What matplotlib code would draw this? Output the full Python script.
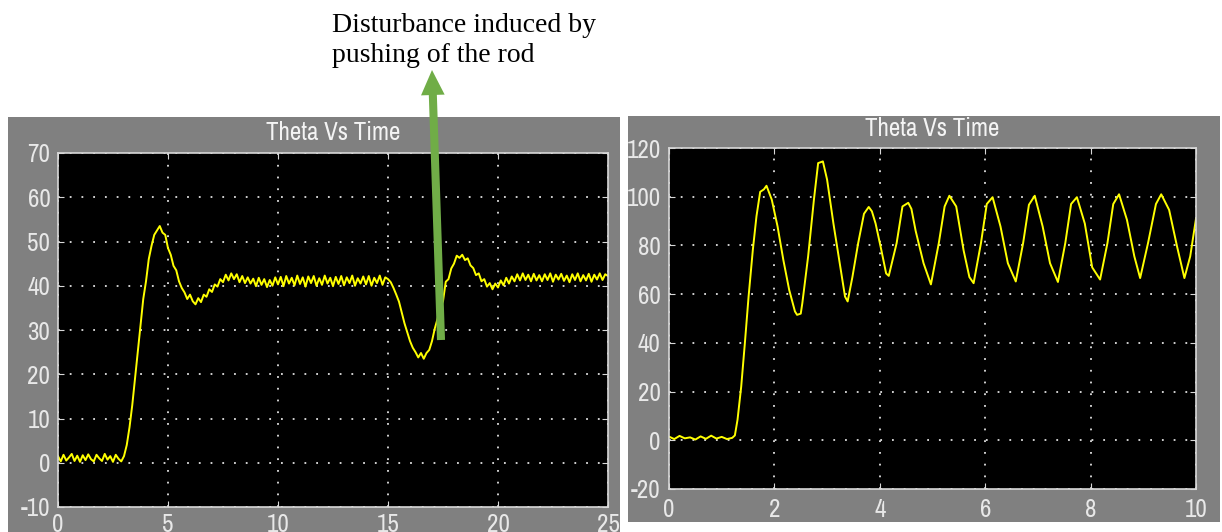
import matplotlib
matplotlib.use("Agg")
import matplotlib.pyplot as plt
from matplotlib import font_manager
from matplotlib.patches import Rectangle, FancyArrowPatch, ArrowStyle

plt.rcParams["axes.unicode_minus"] = False

# left scope: disturbance test, sampled every 0.125 s
t_left_step = 0.125
theta_left = [
    1.5, 0.3, 1.8, 0.5, 1.2, 2.0, 0.4, 1.6,
    0.2, 1.7, 0.6, 1.9, 0.8, 0.3, 1.8, 1.0,
    0.4, 2.0, 0.7, 1.5, 0.2, 1.8, 0.9, 0.3,
    1.5, 4.0, 8.0, 13.0, 19.0, 25.0, 31.0, 37.0,
    41.0, 46.0, 49.0, 51.5, 52.5, 53.5, 52.0, 51.5,
    48.5, 47.0, 44.5, 43.5, 41.0, 39.5, 38.5, 37.0,
    38.0, 36.5, 35.8, 37.2, 36.3, 38.0, 37.5, 39.2,
    38.6, 40.3, 39.8, 41.5, 40.8, 42.5, 41.2, 42.8,
    41.5, 42.6, 40.8, 42.2, 40.6, 41.9, 40.5, 41.6,
    39.9, 41.8, 40.2, 41.5, 39.7, 41.3, 40.0, 41.9,
    40.3, 42.0, 39.9, 42.2, 40.5, 41.8, 40.1, 42.3,
    40.4, 41.9, 39.8, 42.1, 40.6, 42.2, 40.0, 41.7,
    40.2, 42.3, 40.5, 41.8, 39.9, 42.0, 40.4, 42.2,
    40.1, 41.9, 40.6, 42.3, 40.0, 41.7, 40.5, 42.1,
    40.3, 42.2, 40.0, 41.8, 40.6, 42.3, 40.2, 41.9,
    41.5, 40.8, 39.5, 38.0, 36.4, 34.0, 31.5, 29.5,
    27.5, 26.0, 25.0, 23.8, 24.8, 23.5, 24.8, 25.5,
    27.5, 30.3, 32.5, 34.9, 36.5, 40.9, 41.5, 43.9,
    45.0, 46.8, 46.3, 47.0, 45.8, 46.2, 44.6, 44.0,
    42.4, 42.8, 41.0, 41.5, 39.8, 40.6, 39.2, 40.5,
    39.6, 41.2, 40.1, 41.8, 40.5, 42.1, 41.0, 42.6,
    41.2, 42.8, 41.3, 42.5, 41.0, 42.7, 41.2, 42.4,
    41.0, 42.6, 41.3, 42.8, 40.9, 42.5, 41.4, 42.7,
    41.1, 42.3, 40.8, 42.6, 41.3, 42.8, 41.0, 42.4,
    41.2, 42.7, 40.9, 42.5, 41.4, 42.8, 41.3, 42.6,
    42.2,
]
t_left = [i * t_left_step for i in range(len(theta_left))]

# right scope: sustained oscillation
t_right = [
    0.0, 0.1, 0.2, 0.3, 0.4, 0.5, 0.6, 0.7, 0.8, 0.9, 1.0, 1.1, 1.2, 1.25,
    1.3, 1.37, 1.44, 1.51, 1.59, 1.66, 1.73, 1.8, 1.85, 1.95, 2.06, 2.17,
    2.28, 2.39, 2.43, 2.5, 2.53, 2.64, 2.75, 2.83, 2.92, 3.0, 3.12, 3.23,
    3.34, 3.39, 3.48, 3.59, 3.70, 3.79, 3.85, 3.92, 4.03, 4.12, 4.17, 4.32,
    4.43, 4.54, 4.6, 4.68, 4.83, 4.97, 5.12, 5.23, 5.32, 5.45, 5.59, 5.70,
    5.78, 5.92, 6.03, 6.14, 6.29, 6.43, 6.58, 6.72, 6.83, 6.94, 7.09, 7.23,
    7.38, 7.52, 7.63, 7.74, 7.89, 8.03, 8.18, 8.32, 8.43, 8.54, 8.69, 8.83,
    8.94, 9.09, 9.24, 9.34, 9.49, 9.64, 9.78, 9.89, 10.0,
]
theta_right = [
    1.5, 0.5, 1.8, 0.8, 1.2, 0.3, 1.6, 0.6, 1.9, 0.7, 1.4, 0.5, 1.0, 2.0,
    8.4, 22, 40, 59, 78, 92, 102, 103, 104.5, 98.8, 87.8, 74,
    61.8, 52.9, 51.5, 52, 56.3, 75.5, 98.8, 113.8, 114.5, 107, 89, 74,
    59, 57, 67, 81, 93, 95.8, 94, 89, 78, 68.5, 67.5, 81,
    96, 97.5, 95, 86, 72.7, 64, 81, 96, 100.4, 96, 78, 67,
    64.5, 81, 97, 99.8, 87.8, 72.7, 65.2, 81, 96.7, 100.4, 87.8, 72.7,
    65, 81, 97, 99.8, 89, 71, 66, 81, 97, 101, 90.5, 75.5,
    66.6, 81, 97, 101, 94.6, 79.6, 66.6, 75.5, 91,
]

left_xticks = [0, 5, 10, 15, 20, 25]
left_yticks = [-10, 0, 10, 20, 30, 40, 50, 60, 70]
right_xticks = [0, 2, 4, 6, 8, 10]
right_yticks = [-20, 0, 20, 40, 60, 80, 100, 120]
title = "Theta Vs Time"
note = "Disturbance induced by\npushing of the rod"

# the scope font is a narrow sans; use a condensed face if one is installed
scope_font, scope_stretch, scope_size = "Liberation Sans", "normal", 16
for f in font_manager.fontManager.ttflist:
    if "Narrow" in f.name or "Condensed" in f.name:
        scope_font, scope_stretch, scope_size = f.name, "normal", 18
        break
    if str(f.stretch) in ("condensed", "semi-condensed", "500", "600"):
        if f.name in ("DejaVu Sans", "Roboto", "Open Sans", "Noto Sans", "Liberation Sans"):
            scope_font, scope_stretch, scope_size = f.name, "condensed", 18

W, H = 1222, 532
fig = plt.figure(figsize=(W / 100, H / 100), dpi=100)
fig.patch.set_facecolor("white")


def px_box(x0, y0, x1, y1):
    # pixel box (top-left origin) -> figure fraction [left, bottom, width, height]
    return [x0 / W, 1 - y1 / H, (x1 - x0) / W, (y1 - y0) / H]


def scope(panel, box, t, y, xlim, ylim, xticks, yticks, xpad, ypad, title_y):
    l, b, w, h = px_box(*panel)
    fig.patches.append(Rectangle((l, b), w, h, transform=fig.transFigure,
                                 facecolor="#808080", edgecolor="none", zorder=-5))
    ax = fig.add_axes(px_box(*box))
    ax.set_facecolor("black")
    ax.plot(t, y, color="#ffff00", lw=1.4)
    ax.set_xlim(*xlim)
    ax.set_ylim(*ylim)
    ax.set_xticks(xticks)
    ax.set_yticks(yticks)
    ax.grid(True, color="#e0e0e0", linestyle=(0, (1, 5.5)), lw=1.3)
    for s in ax.spines.values():
        s.set_color("#d8d8d8")
        s.set_linewidth(1.2)
    ax.tick_params(direction="in", length=4, color="#d8d8d8", labelcolor="#e8e8e8",
                   labelsize=scope_size, top=True, right=True)
    ax.tick_params(axis="x", pad=xpad)
    ax.tick_params(axis="y", pad=ypad)
    for lab in ax.get_xticklabels() + ax.get_yticklabels():
        lab.set_family(scope_font)
        lab.set_stretch(scope_stretch)
    cx = (box[0] + box[2]) / 2
    fig.text(cx / W, 1 - title_y / H, title, color="#f4f4f4", fontsize=scope_size,
             family=scope_font, fontstretch=scope_stretch, ha="center", va="center")
    return ax


scope((8, 117, 620, 532), (58, 153, 608, 507), t_left, theta_left,
      (0, 25), (-10, 70), left_xticks, left_yticks, 4.5, 5.5, 133)
scope((628, 116, 1220, 522), (669, 148, 1196, 489), t_right, theta_right,
      (0, 10), (-20, 120), right_xticks, right_yticks, 6.5, 6, 128)

fig.text(332 / W, 1 - 13 / H, note, family="Liberation Serif", fontsize=20,
         color="black", ha="left", va="top", linespacing=1.28)

arrow = FancyArrowPatch((441 / W, 1 - 340 / H), (432 / W, 1 - 70 / H),
                        transform=fig.transFigure,
                        arrowstyle=ArrowStyle("simple", head_length=18, head_width=17, tail_width=5.8),
                        mutation_scale=1, shrinkA=0, shrinkB=0,
                        facecolor="#70ad47", edgecolor="none", zorder=5)
fig.patches.append(arrow)

fig.savefig("out.png", dpi=100)
